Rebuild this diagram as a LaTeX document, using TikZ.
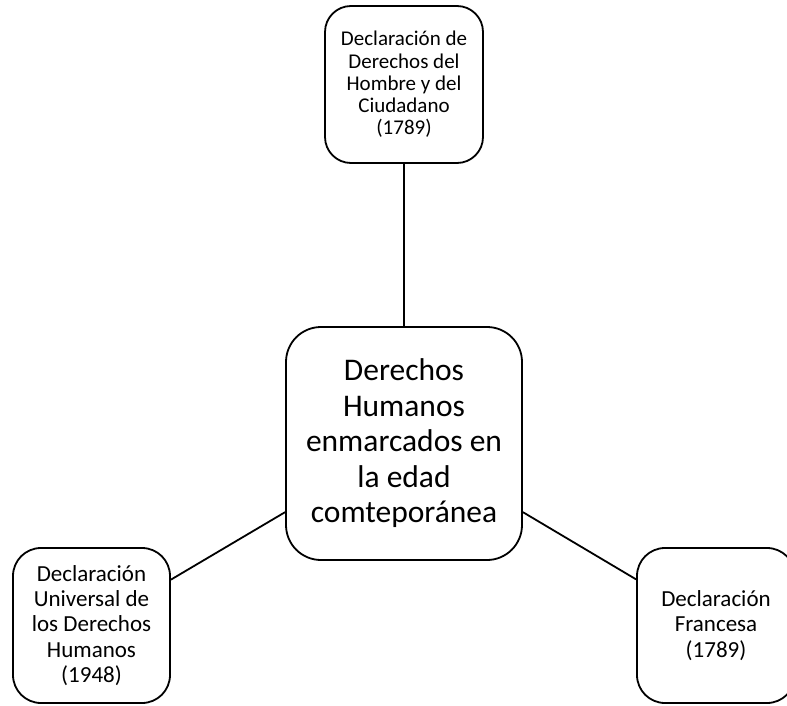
\documentclass[tikz,border=0pt]{standalone}
\usepackage{fontspec}
\setmainfont{Carlito}
\begin{document}
\begin{tikzpicture}[x=1pt,y=-1pt,
  box/.style={draw=black, line width=1.8pt, rounded corners=#1, align=center, inner sep=0pt, fill=white},
  box/.default=26pt,
  link/.style={draw=black, line width=1.8pt}]
\useasboundingbox (0,0) rectangle (787,706);
\node[box, minimum width=158pt, minimum height=157pt, font=\fontsize{21}{22.3}\selectfont] (t) at (404,84.5)
  {Declaración de\\Derechos del\\Hombre y del\\Ciudadano\\(1789)};
\node[box=35pt, minimum width=236pt, minimum height=233pt, font=\fontsize{31.5}{35.5}\selectfont] (c) at (404,443.5)
  {Derechos\\Humanos\\enmarcados en\\la edad\\comteporánea};
\node[box=28pt, minimum width=157pt, minimum height=155pt, font=\fontsize{23}{25.3}\selectfont] (l) at (91.5,625.5)
  {Declaración\\Universal de\\los Derechos\\Humanos\\(1948)};
\node[box=28pt, minimum width=158pt, minimum height=155pt, font=\fontsize{23}{25.3}\selectfont] (r) at (716,625.5)
  {Declaración\\Francesa\\(1789)};
\draw[link] (t.south) -- (c.north);
\draw[link] (l.30) -- (c.210);
\draw[link] (c.330) -- (r.150);
\end{tikzpicture}
\end{document}
